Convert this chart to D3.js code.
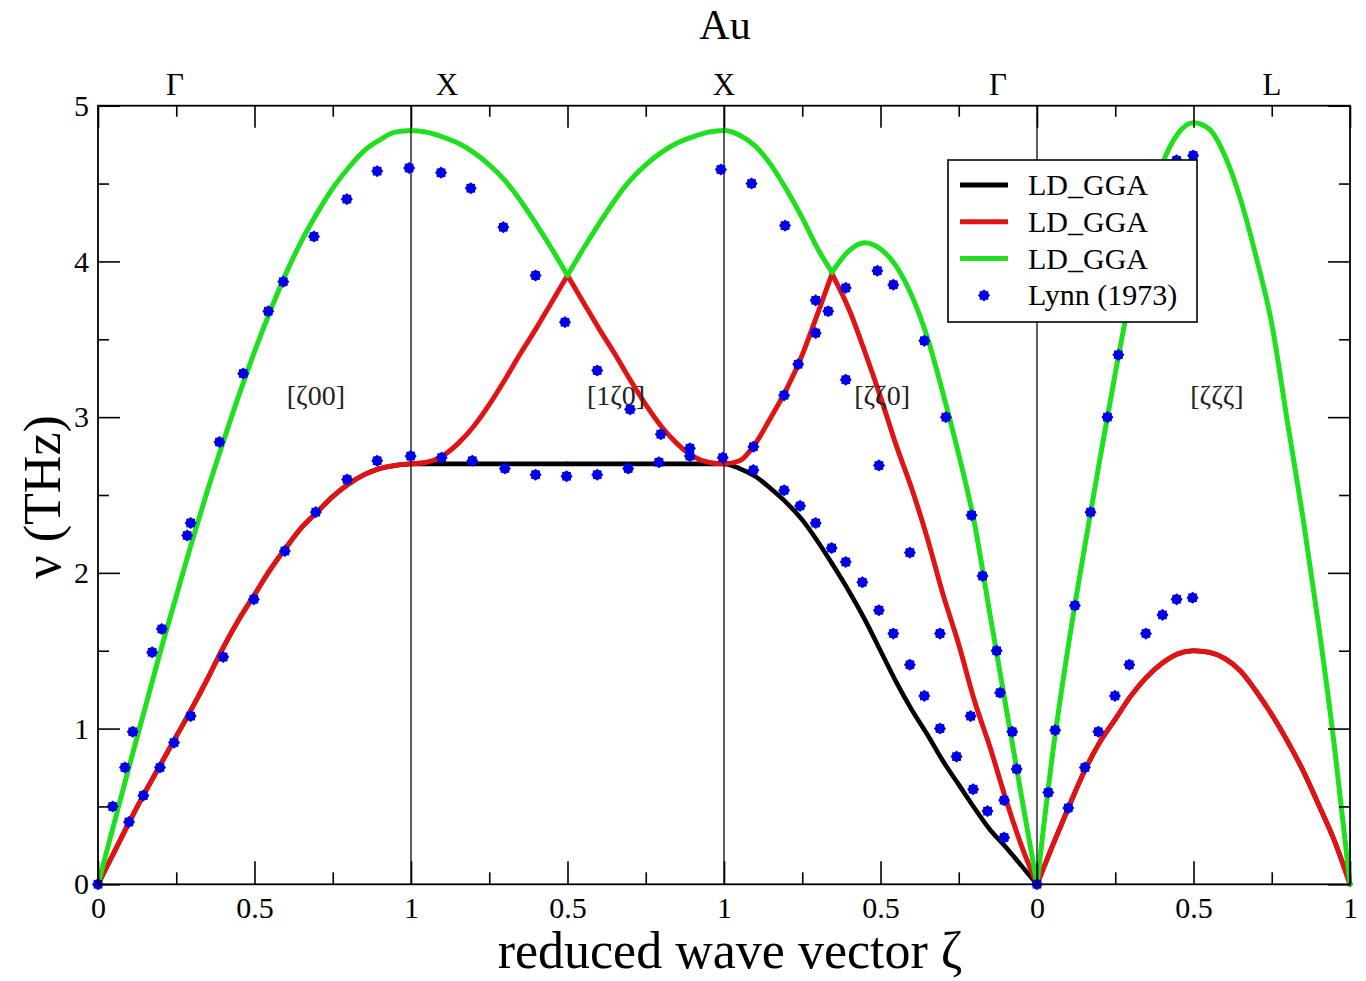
<!DOCTYPE html>
<html>
<head>
<meta charset="utf-8">
<script src="https://cdn.jsdelivr.net/npm/d3@7"></script>
<style>
  html, body { margin: 0; padding: 0; background: #fff; }
  svg { display: block; }
  text { font-family: "Liberation Serif", "Times New Roman", serif; fill: #000; }
</style>
</head>
<body>
<svg id="chart" width="1366" height="981"></svg>
<script>
// Phonon dispersion of Au along Γ-X, X-X, X-Γ and Γ-L.
// Horizontal coordinate: position along the path, one unit per segment.
const waveVector = [
  0, 0.05, 0.1, 0.15, 0.2, 0.25, 0.3, 0.35, 0.4, 0.45, 0.5, 0.55, 0.6, 0.65, 0.7, 0.75, 0.8, 0.85, 0.9, 0.95, 1.0,
  1.05, 1.1, 1.15, 1.2, 1.25, 1.3, 1.35, 1.4, 1.45, 1.5, 1.55, 1.6, 1.65, 1.7, 1.75, 1.8, 1.85, 1.9, 1.95, 2.0,
  2.05, 2.1, 2.15, 2.2, 2.25, 2.3, 2.345, 2.4, 2.45, 2.5, 2.55, 2.6, 2.65, 2.7, 2.75, 2.8, 2.85, 2.9, 2.95, 3.0,
  3.05, 3.1, 3.15, 3.2, 3.25, 3.3, 3.35, 3.4, 3.45, 3.5, 3.55, 3.6, 3.65, 3.7, 3.75, 3.8, 3.85, 3.9, 3.95, 4.0
];

// LD_GGA branches (THz)
const branchBlack = [
  0, 0.20, 0.40, 0.59, 0.77, 0.95, 1.13, 1.32, 1.52, 1.70, 1.86, 2.02, 2.16, 2.29, 2.39, 2.49, 2.57, 2.63, 2.67, 2.69, 2.70,
  2.70, 2.70, 2.70, 2.70, 2.70, 2.70, 2.70, 2.70, 2.70, 2.70, 2.70, 2.70, 2.70, 2.70, 2.70, 2.70, 2.70, 2.70, 2.70, 2.70,
  2.67, 2.62, 2.54, 2.45, 2.34, 2.20, 2.06, 1.88, 1.70, 1.50, 1.30, 1.12, 0.96, 0.79, 0.64, 0.49, 0.35, 0.24, 0.12, 0,
  0.25, 0.49, 0.72, 0.91, 1.06, 1.21, 1.33, 1.42, 1.48, 1.50, 1.49, 1.45, 1.37, 1.24, 1.09, 0.92, 0.73, 0.51, 0.28, 0
];
const branchRed = [
  0, 0.20, 0.40, 0.59, 0.77, 0.95, 1.13, 1.32, 1.52, 1.70, 1.86, 2.02, 2.16, 2.29, 2.39, 2.49, 2.57, 2.63, 2.67, 2.69, 2.70,
  2.71, 2.75, 2.83, 2.94, 3.08, 3.24, 3.41, 3.57, 3.74, 3.91, 3.74, 3.57, 3.41, 3.24, 3.08, 2.94, 2.83, 2.75, 2.71, 2.70,
  2.72, 2.83, 3.00, 3.18, 3.40, 3.67, 3.92, 3.69, 3.42, 3.13, 2.82, 2.54, 2.22, 1.86, 1.54, 1.18, 0.88, 0.55, 0.25, 0,
  0.25, 0.49, 0.72, 0.91, 1.06, 1.21, 1.33, 1.42, 1.48, 1.50, 1.49, 1.45, 1.37, 1.24, 1.09, 0.92, 0.73, 0.51, 0.28, 0
];
const branchGreen = [
  0, 0.38, 0.76, 1.13, 1.50, 1.85, 2.20, 2.53, 2.84, 3.14, 3.42, 3.68, 3.92, 4.13, 4.31, 4.47, 4.60, 4.71, 4.78, 4.83, 4.84,
  4.83, 4.80, 4.76, 4.70, 4.62, 4.52, 4.39, 4.24, 4.08, 3.91, 4.08, 4.24, 4.39, 4.52, 4.62, 4.70, 4.76, 4.80, 4.83, 4.84,
  4.81, 4.74, 4.62, 4.46, 4.28, 4.08, 3.93, 4.07, 4.12, 4.08, 3.97, 3.78, 3.51, 3.15, 2.76, 2.32, 1.73, 1.15, 0.57, 0,
  0.84, 1.53, 2.14, 2.72, 3.28, 3.80, 4.24, 4.62, 4.82, 4.89, 4.85, 4.68, 4.40, 4.03, 3.60, 2.97, 2.35, 1.66, 0.89, 0
];
// Points where a branch has a kink: each branch is smoothed piecewise between them
const kinkPoints = [1.5, 2.345, 3.0];

// Neutron scattering data, Lynn (1973): [path position, THz]
const lynnGX = [
  [0, 0], [0.047, 0.50], [0.086, 0.75], [0.111, 0.98], [0.173, 1.49], [0.204, 1.64], [0.285, 2.24], [0.296, 2.32],
  [0.388, 2.84], [0.464, 3.28], [0.544, 3.68], [0.592, 3.87], [0.690, 4.16], [0.795, 4.40], [0.892, 4.58], [0.994, 4.60],
  [0.099, 0.40], [0.145, 0.57], [0.198, 0.75], [0.243, 0.91], [0.296, 1.08], [0.400, 1.46], [0.498, 1.83], [0.597, 2.14],
  [0.696, 2.39], [0.796, 2.60], [0.892, 2.72], [0.999, 2.75]
];
const lynnXX = [
  [1.096, 4.57], [1.191, 4.47], [1.295, 4.22], [1.398, 3.91], [1.492, 3.61],
  [1.098, 2.74], [1.196, 2.72], [1.300, 2.67], [1.398, 2.63], [1.497, 2.62], [1.595, 2.63], [1.694, 2.67], [1.792, 2.71],
  [1.891, 2.75], [1.996, 2.74],
  [1.595, 3.30], [1.700, 3.05], [1.798, 2.89], [1.891, 2.80]
];
const lynnXG = [
  [1.990, 4.59], [2.088, 4.50], [2.195, 4.23], [2.293, 3.75], [2.333, 3.68], [2.389, 3.83], [2.490, 3.94], [2.541, 3.85],
  [2.640, 3.49], [2.709, 3.00], [2.791, 2.37], [2.826, 1.98], [2.871, 1.50], [2.882, 1.23], [2.921, 0.98], [2.935, 0.74],
  [2.094, 2.81], [2.192, 3.14], [2.237, 3.34], [2.293, 3.54], [2.389, 3.24], [2.495, 2.69], [2.594, 2.13], [2.690, 1.61],
  [2.788, 1.08], [2.895, 0.54],
  [2.094, 2.66], [2.192, 2.53], [2.243, 2.43], [2.293, 2.32], [2.344, 2.16], [2.389, 2.07], [2.442, 1.94], [2.495, 1.76],
  [2.541, 1.61], [2.594, 1.41], [2.640, 1.21], [2.690, 1.00], [2.743, 0.82], [2.796, 0.61], [2.842, 0.47], [2.895, 0.30]
];
const lynnGL = [
  [3.0, 0], [3.036, 0.59], [3.058, 0.99], [3.121, 1.79], [3.171, 2.39], [3.225, 3.00], [3.260, 3.40], [3.446, 4.65], [3.499, 4.68],
  [3.100, 0.49], [3.153, 0.75], [3.196, 0.98], [3.249, 1.21], [3.295, 1.41], [3.348, 1.61], [3.401, 1.73], [3.446, 1.83], [3.497, 1.84]
];

// Axes
const xMajorTicks = [0, 0.5, 1, 1.5, 2, 2.5, 3, 3.5, 4];
const xTickLabels = ["0", "0.5", "1", "0.5", "1", "0.5", "0", "0.5", "1"];
const xMinorTicks = [0.25, 0.75, 1.25, 1.75, 2.25, 2.75, 3.25, 3.75];
const yMajorTicks = [0, 1, 2, 3, 4, 5];
const yMinorTicks = [0.5, 1.5, 2.5, 3.5, 4.5];
const zoneBoundaries = [1, 2, 3];

const symmetryLabels = ["Γ", "X", "X", "Γ", "L"];
const symmetryPositions = [0.246, 1.115, 2.0, 2.875, 3.751];
const directionLabels = ["[ζ00]", "[1ζ0]", "[ζζ0]", "[ζζζ]"];
const directionPositions = [0.696, 1.655, 2.505, 3.575];
const directionLevel = 3.08;

const legendNames = ["LD_GGA", "LD_GGA", "LD_GGA", "Lynn (1973)"];

const colBlack = "#000000", colRed = "#e01414", colGreen = "#1fe01f", colBlue = "#0000e6";

// ---------------------------------------------------------------
const svg = d3.select("#chart");
const plot = { left: 98, right: 1350, top: 105.7, bottom: 884.3 };

const x = d3.scaleLinear().domain([0, 4]).range([plot.left, plot.right]);
const y = d3.scaleLinear().domain([0, 5]).range([plot.bottom, plot.top]);

const line = d3.line()
  .x(d => x(d[0]))
  .y(d => y(d[1]))
  .curve(d3.curveMonotoneX);

// split a branch at its kinks so the smoothing keeps them sharp
function branchPieces(values) {
  const pts = waveVector.map((q, i) => [q, values[i]]);
  const out = [];
  let cur = [];
  pts.forEach(p => {
    cur.push(p);
    if (kinkPoints.some(k => Math.abs(k - p[0]) < 1e-9)) {
      out.push(cur);
      cur = [p];
    }
  });
  if (cur.length > 1) out.push(cur);
  return out;
}

const curves = svg.append("g");
[[branchBlack, colBlack, 4.6], [branchRed, colRed, 5], [branchGreen, colGreen, 5]].forEach(([vals, col, w]) => {
  curves.selectAll(null)
    .data(branchPieces(vals))
    .enter().append("path")
    .attr("d", line)
    .attr("fill", "none")
    .attr("stroke", col)
    .attr("stroke-width", w)
    .attr("stroke-linejoin", "round")
    .attr("stroke-linecap", "round");
});

// zone boundary lines
svg.append("g").selectAll("line")
  .data(zoneBoundaries)
  .enter().append("line")
  .attr("x1", d => x(d)).attr("x2", d => x(d))
  .attr("y1", y(0)).attr("y2", y(5))
  .attr("stroke", "#1a1a1a").attr("stroke-width", 1.4);

// experimental points
const starSymbol = {
  draw(ctx, size) {
    const ro = Math.sqrt(size) * 0.62, ri = ro * 0.8;
    for (let i = 0; i < 16; i++) {
      const a = i * Math.PI / 8;
      const r = i % 2 === 0 ? ro : ri;
      if (i === 0) ctx.moveTo(r * Math.sin(a), -r * Math.cos(a));
      else ctx.lineTo(r * Math.sin(a), -r * Math.cos(a));
    }
    ctx.closePath();
  }
};
const star = d3.symbol().type(starSymbol).size(95);
const allLynn = lynnGX.concat(lynnXX, lynnXG, lynnGL);
svg.append("g").selectAll("path")
  .data(allLynn)
  .enter().append("path")
  .attr("d", star)
  .attr("transform", d => `translate(${x(d[0])},${y(d[1])})`)
  .attr("fill", colBlue);

// frame
svg.append("rect")
  .attr("x", plot.left).attr("y", plot.top)
  .attr("width", plot.right - plot.left).attr("height", plot.bottom - plot.top)
  .attr("fill", "none").attr("stroke", "#000").attr("stroke-width", 1.8);

function styleAxis(g, fontSize) {
  g.select(".domain").remove();
  g.selectAll(".tick line").attr("stroke", "#000").attr("stroke-width", 1.6);
  g.selectAll(".tick text").attr("font-size", fontSize).attr("fill", "#000")
    .attr("font-family", '"Liberation Serif", "Times New Roman", serif');
}

// bottom
svg.append("g").attr("transform", `translate(0,${plot.bottom})`)
  .call(d3.axisBottom(x).tickValues(xMajorTicks).tickSize(-23).tickPadding(12)
    .tickFormat((d, i) => xTickLabels[i]))
  .call(g => styleAxis(g, 30));
svg.append("g").attr("transform", `translate(0,${plot.bottom})`)
  .call(d3.axisBottom(x).tickValues(xMinorTicks).tickSize(-12).tickFormat(""))
  .call(g => styleAxis(g, 30));
// top
svg.append("g").attr("transform", `translate(0,${plot.top})`)
  .call(d3.axisTop(x).tickValues(xMajorTicks).tickSize(-22).tickFormat(""))
  .call(g => styleAxis(g, 30));
svg.append("g").attr("transform", `translate(0,${plot.top})`)
  .call(d3.axisTop(x).tickValues(xMinorTicks).tickSize(-11).tickFormat(""))
  .call(g => styleAxis(g, 30));
// left
svg.append("g").attr("transform", `translate(${plot.left},0)`)
  .call(d3.axisLeft(y).tickValues(yMajorTicks).tickSize(-22).tickPadding(9).tickFormat(d3.format("d")))
  .call(g => styleAxis(g, 30));
svg.append("g").attr("transform", `translate(${plot.left},0)`)
  .call(d3.axisLeft(y).tickValues(yMinorTicks).tickSize(-11).tickFormat(""))
  .call(g => styleAxis(g, 30));
// right
svg.append("g").attr("transform", `translate(${plot.right},0)`)
  .call(d3.axisRight(y).tickValues(yMajorTicks).tickSize(-22).tickFormat(""))
  .call(g => styleAxis(g, 30));
svg.append("g").attr("transform", `translate(${plot.right},0)`)
  .call(d3.axisRight(y).tickValues(yMinorTicks).tickSize(-11).tickFormat(""))
  .call(g => styleAxis(g, 30));

// symmetry point names above the frame
svg.append("g").selectAll("text")
  .data(symmetryLabels)
  .enter().append("text")
  .attr("x", (d, i) => x(symmetryPositions[i]))
  .attr("y", 95)
  .attr("text-anchor", "middle")
  .attr("font-size", 31)
  .text(d => d);

// direction names inside the plot
svg.append("g").selectAll("text")
  .data(directionLabels)
  .enter().append("text")
  .attr("x", (d, i) => x(directionPositions[i]))
  .attr("y", y(directionLevel))
  .attr("text-anchor", "middle")
  .attr("font-size", 28)
  .style("fill", "#222")
  .text(d => d);

// title and axis titles
svg.append("text").attr("x", 725).attr("y", 39).attr("text-anchor", "middle")
  .attr("font-size", 42).text("Au");
svg.append("text").attr("x", 730).attr("y", 968).attr("text-anchor", "middle")
  .attr("font-size", 52).text("reduced wave vector ζ");
svg.append("text").attr("transform", "translate(60,497) rotate(-90)").attr("text-anchor", "middle")
  .attr("font-size", 52).text("ν (THz)");

// legend
const legend = svg.append("g");
legend.append("rect")
  .attr("x", 948).attr("y", 160).attr("width", 249).attr("height", 162)
  .attr("fill", "#fff").attr("stroke", "#000").attr("stroke-width", 1.6);
const legendColors = [colBlack, colRed, colGreen];
legendNames.forEach((name, i) => {
  const cy = 185 + i * 36.8;
  if (i < 3) {
    legend.append("line")
      .attr("x1", 960).attr("x2", 1008).attr("y1", cy).attr("y2", cy)
      .attr("stroke", legendColors[i]).attr("stroke-width", 5);
  } else {
    legend.append("path").attr("d", star)
      .attr("transform", `translate(984,${cy})`).attr("fill", colBlue);
  }
  legend.append("text")
    .attr("x", 1028).attr("y", cy + 10)
    .attr("font-size", 30)
    .text(name);
});
</script>
</body>
</html>
